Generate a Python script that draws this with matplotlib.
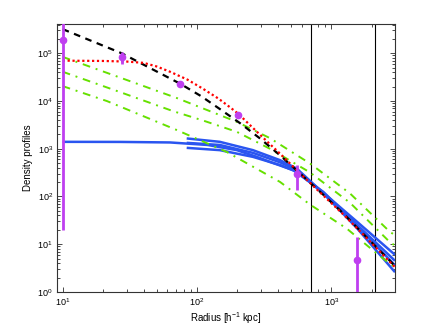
import matplotlib
matplotlib.use("Agg")
import matplotlib.pyplot as plt
import numpy as np

plt.rcParams['font.family'] = ['Liberation Sans', 'DejaVu Sans']
plt.rcParams['mathtext.fontset'] = 'custom'
plt.rcParams['mathtext.rm'] = 'Liberation Sans'
plt.rcParams['mathtext.it'] = 'Liberation Sans:italic'
plt.rcParams['mathtext.bf'] = 'Liberation Sans:bold'

# ---- data ----
black_r = [10, 27.5, 75, 108, 125, 149, 209, 294, 414, 585, 871, 1230, 1545, 2980]
black_rho = [3.2e5, 1.0e5, 2.3e4, 1.25e4, 9.4e3, 6.7e3, 3.44e3, 1.65e3, 735, 305, 109, 44, 22.7, 3.5]

red_r = [10, 20, 30, 40, 50, 63, 85, 111, 144, 176, 203, 255, 330, 415, 585, 871, 1230, 1545, 2980]
red_rho = [7.0e4, 6.9e4, 6.7e4, 6.3e4, 5.3e4, 4.1e4, 2.8e4, 1.8e4, 1.13e4, 7.4e3, 5.4e3,
           2.9e3, 1.45e3, 790, 305, 105, 42, 22, 3.3]

g1_r = [10, 26.7, 71, 198, 349, 693, 1377, 2735, 2980]
g1_rho = [8.4e4, 3.1e4, 1.15e4, 3.66e3, 1.67e3, 492, 116, 18.1, 15.5]
g2_r = [10, 26.7, 66.7, 111, 198, 349, 693, 1377, 2735, 2980]
g2_rho = [4.1e4, 1.54e4, 6.1e3, 3.9e3, 2.26e3, 1.0e3, 320, 74, 11, 9.4]
g3_r = [10, 21.4, 71, 166, 415, 693, 1303, 2180, 2735, 2980]
g3_rho = [2.05e4, 9.95e3, 2.455e3, 861, 202, 68, 21.3, 6.4, 3.9, 3.3]

b1_r = [10, 27, 63, 120, 198, 279, 349, 521, 871, 1545, 2980]
b1_rho = [1396, 1390, 1355, 1200, 935, 676, 531, 356, 125, 26, 4.5]
b_short_r = [83.8, 148, 261, 415, 552, 871, 1545, 2980]
b2_rho = [1645, 1396, 935, 577, 386, 118, 22, 2.6]
b3_rho = [1330, 1200, 820, 520, 360, 115, 25, 3.6]
b4_rho = [1045, 935, 676, 456, 330, 120, 30, 6.0]

pts_r = [10, 27.6, 75, 203, 552, 1545]
pts_rho = [1.9e5, 8.45e4, 2.23e4, 5.06e3, 303, 4.6]
pts_lo = [19.6, 6.1e4, 2.2e4, 5.0e3, 136, 0.1]
pts_hi = [6e5, 1.07e5, 2.26e4, 5.1e3, 453, 14.2]

vlines_r = [710, 2130]

# ---- figure ----
fig = plt.figure(figsize=(4.36, 3.28), dpi=100)
ax = fig.add_axes([0.1307, 0.1098, 0.7753, 0.8170])

blue = '#2a55f0'
green = '#66e000'
mag = '#bf3ff0'

for r, rho in [(b1_r, b1_rho), (b_short_r, b2_rho), (b_short_r, b3_rho), (b_short_r, b4_rho)]:
    ax.plot(r, rho, color=blue, lw=1.8, solid_capstyle='butt', zorder=2)

for r, rho in [(g1_r, g1_rho), (g2_r, g2_rho), (g3_r, g3_rho)]:
    ax.plot(r, rho, color=green, lw=1.4, dashes=(4, 3, 1, 3), zorder=3)

ax.plot(black_r, black_rho, color='black', lw=1.6, dashes=(3, 2.5), zorder=4)
ax.plot(red_r, red_rho, color='red', lw=1.6, dashes=(1, 1.2), zorder=5)

for v in vlines_r:
    ax.axvline(v, color='black', lw=0.8, zorder=1)

rho = np.array(pts_rho)
yerr = [rho - np.array(pts_lo), np.array(pts_hi) - rho]
ax.errorbar(pts_r, pts_rho, yerr=yerr, fmt='o', color=mag, ms=4.5, mec=mag,
            elinewidth=2, capsize=0, zorder=6)

ax.set_xscale('log')
ax.set_yscale('log')
ax.set_xlim(9.07, 2980)
ax.set_ylim(1, 4.1e5)

ax.tick_params(which='both', direction='in', top=True, right=True, labelsize=6.5,
               width=0.5, pad=3)
ax.tick_params(which='major', length=3.5)
ax.tick_params(which='minor', length=2)
for s in ax.spines.values():
    s.set_linewidth(0.8)
    s.set_color('#333333')

ax.set_xlabel(r'Radius [h$^{-1}$ kpc]', fontsize=7, labelpad=2)
ax.set_ylabel('Density profiles', fontsize=7, labelpad=3)

fig.savefig('out.png', dpi=100)
